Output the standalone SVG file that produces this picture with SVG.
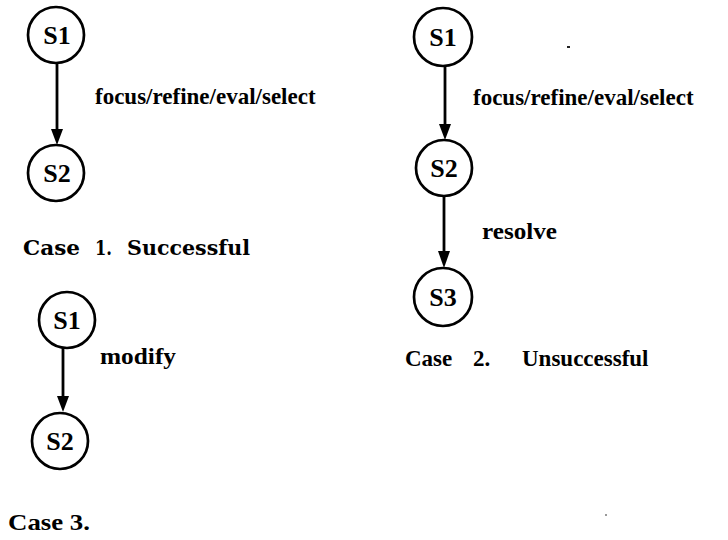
<svg xmlns="http://www.w3.org/2000/svg" width="728" height="540" viewBox="0 0 728 540">
  <style>
    .state { fill: #fff; stroke: #000; stroke-width: 2.7; }
    .sname { font-family: "Liberation Serif", "Times New Roman", serif; font-weight: bold; font-size: 26px; text-anchor: middle; fill: #000; }
    .edge { stroke: #000; stroke-width: 2.8; fill: none; }
    .lbl { font-family: "Liberation Serif", "Times New Roman", serif; font-weight: bold; font-size: 23px; fill: #000; }
    .lbl-plain { font-family: "Liberation Serif", "Times New Roman", serif; font-weight: 600; font-size: 23px; fill: #000; }
    .cap1 { font-family: "DejaVu Serif", serif; font-weight: bold; font-size: 21px; fill: #000; }
  </style>
  <rect width="728" height="540" fill="#fff"/>

  <!-- connectors with filled dart heads -->
  <g id="connectors">
    <line class="edge" x1="57" y1="63" x2="57" y2="130"/>
    <path d="M51,129 L63,129 L57,145 Z" fill="#000"/>
    <line class="edge" x1="445" y1="66" x2="445" y2="125"/>
    <path d="M439,124 L451,124 L445,140 Z" fill="#000"/>
    <line class="edge" x1="444" y1="196" x2="444" y2="252"/>
    <path d="M438,251 L450,251 L444,268 Z" fill="#000"/>
    <line class="edge" x1="63" y1="348" x2="63" y2="397"/>
    <path d="M57,396 L69,396 L63,412 Z" fill="#000"/>
  </g>

  <!-- Case 1 -->
  <g id="c1-s1">
    <circle class="state" cx="56" cy="35" r="28"/>
    <text class="sname" x="57" y="44">S1</text>
  </g>
  <g id="c1-s2">
    <circle class="state" cx="56" cy="173" r="28"/>
    <text class="sname" x="57" y="182">S2</text>
  </g>
  <text class="lbl" x="95" y="104">focus/refine/eval/select</text>
  <g class="cap1">
    <text x="23" y="255" textLength="57" lengthAdjust="spacingAndGlyphs">Case</text>
    <text x="95" y="255" textLength="17" lengthAdjust="spacingAndGlyphs">1.</text>
    <text x="127" y="255" textLength="123" lengthAdjust="spacingAndGlyphs">Successful</text>
  </g>

  <!-- Case 2 -->
  <g id="c2-s1">
    <circle class="state" cx="443" cy="37" r="29"/>
    <text class="sname" x="443" y="46">S1</text>
  </g>
  <g id="c2-s2">
    <circle class="state" cx="444" cy="168" r="28"/>
    <text class="sname" x="444" y="177">S2</text>
  </g>
  <g id="c2-s3">
    <circle class="state" cx="443" cy="297" r="29"/>
    <text class="sname" x="443" y="306">S3</text>
  </g>
  <text class="lbl" x="473" y="105">focus/refine/eval/select</text>
  <text class="lbl" x="482" y="239" textLength="75" lengthAdjust="spacingAndGlyphs">resolve</text>
  <g class="lbl">
    <text x="405" y="366">Case</text>
    <text x="473" y="366">2.</text>
    <text x="522" y="366">Unsuccessful</text>
  </g>

  <!-- Case 3 -->
  <g id="c3-s1">
    <circle class="state" cx="67" cy="320" r="28"/>
    <text class="sname" x="67" y="329">S1</text>
  </g>
  <g id="c3-s2">
    <circle class="state" cx="60" cy="441" r="28"/>
    <text class="sname" x="60" y="450">S2</text>
  </g>
  <text class="lbl-plain" x="100" y="364" textLength="76" lengthAdjust="spacingAndGlyphs">modify</text>
  <text class="lbl" x="8" y="530" font-size="25" textLength="82" lengthAdjust="spacingAndGlyphs">Case 3.</text>

  <!-- small specks -->
  <rect x="567" y="46" width="3" height="2" fill="#222"/>
  <rect x="605" y="514" width="2" height="2" fill="#999"/>
</svg>
